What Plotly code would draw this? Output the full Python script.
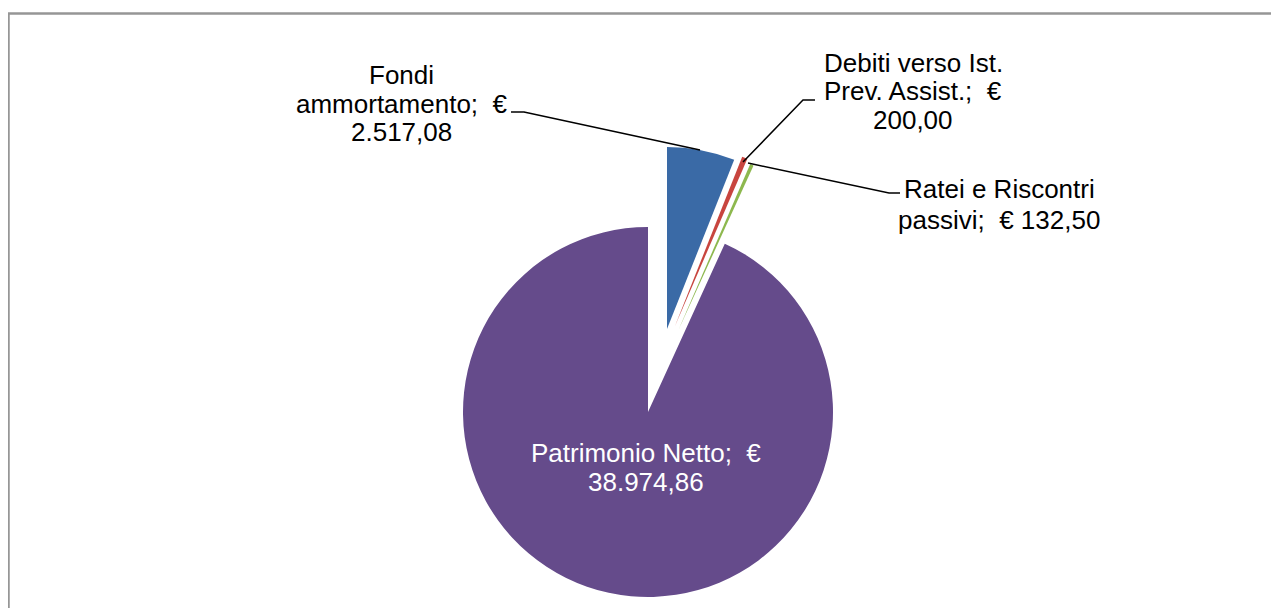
import plotly.graph_objects as go

# ---- data ----
categories = ["Fondi ammortamento", "Debiti verso Ist. Prev. Assist.", "Ratei e Riscontri passivi", "Patrimonio Netto"]
values = [2517.08, 200.00, 132.50, 38974.86]
label_lines = [
    ["Fondi", "ammortamento;\u00a0 €", "2.517,08"],
    ["Debiti verso Ist.", "Prev. Assist.;\u00a0 €", "200,00"],
    ["Ratei e Riscontri", "passivi;\u00a0 € 132,50"],
    ["Patrimonio Netto;\u00a0 €", "38.974,86"],
]

# ---- styles / layout ----
colors = ["#3a6aa6", "#c8453f", "#8db84e", "#654b8b"]
W, H = 1279, 608
OFF = 8  # page body margin offset
radii = [182, 182, 182, 185]
# pie centre (px) for each slice: exploded slices drawn from shifted centres
centres = [(667, 329), (675, 326), (678, 331), (648, 412)]
draw_order = [3, 0, 1, 2]
label_pos = [  # (x centre, first line y, line gap) px
    (402, 75, 28.5),
    (913, 62.5, 28.5),
    (999, 189, 31),
    (646, 452.5, 29.5),
]
label_color = ["black", "black", "black", "white"]


def px(x):
    return (x - OFF) / W


def py(y):
    return 1 - (y - OFF) / H


fig = go.Figure()
for i in draw_order:
    cx, cy = centres[i]
    R = radii[i]
    cols = [colors[j] if j == i else "rgba(0,0,0,0)" for j in range(len(values))]
    fig.add_trace(go.Pie(
        labels=categories, values=values, sort=False, direction="clockwise",
        rotation=0, textinfo="none", hoverinfo="label+value",
        marker=dict(colors=cols, line=dict(width=0)),
        domain=dict(x=[px(cx - R), px(cx + R)], y=[py(cy + R), py(cy - R)]),
        showlegend=False,
    ))

annotations = []
for i, lines in enumerate(label_lines):
    x, y0, gap = label_pos[i]
    for k, t in enumerate(lines):
        annotations.append(dict(
            x=px(x), y=py(y0 + k * gap), xref="paper", yref="paper",
            text=t, showarrow=False, xanchor="center", yanchor="middle",
            font=dict(family="Liberation Sans, Arial, sans-serif", size=26, color=label_color[i]),
        ))


def P(x, y):
    return f"{px(x):.5f},{py(y):.5f}"


leaders = [
    [(511, 112), (524, 112), (700, 150)],
    [(815, 100), (803, 100), (743, 162)],
    [(748, 163), (889, 193), (900, 193)],
]
shapes = []
for pts in leaders:
    path = "M " + " L ".join(P(x, y) for x, y in pts)
    shapes.append(dict(type="path", xref="paper", yref="paper", path=path,
                       line=dict(color="black", width=1.5)))
# chart border (top & left visible)
shapes.append(dict(type="rect", xref="paper", yref="paper",
                   x0=px(8.5), x1=1.05, y0=-0.05, y1=py(13.5),
                   line=dict(color="#969696", width=2.5), fillcolor="rgba(0,0,0,0)"))

fig.update_layout(
    width=W, height=H, margin=dict(l=0, r=0, t=0, b=0),
    paper_bgcolor="white", plot_bgcolor="white",
    annotations=annotations, shapes=shapes,
)
fig.write_html("out.html")
